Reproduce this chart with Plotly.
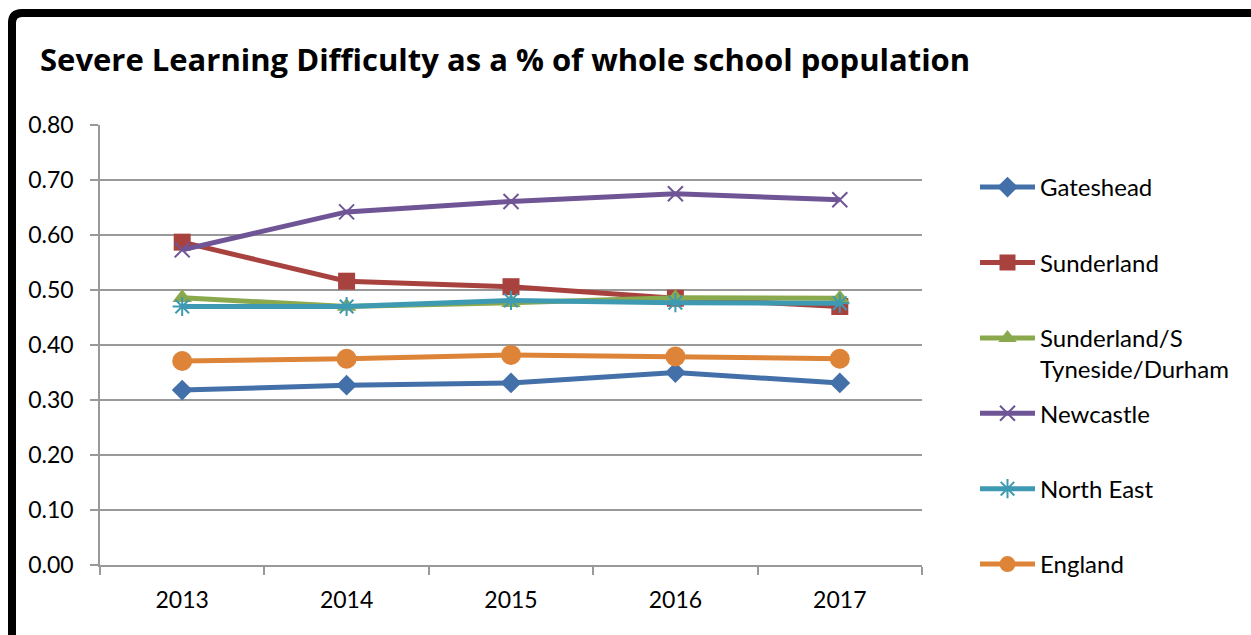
import plotly.graph_objects as go

# Severe Learning Difficulty (SLD) pupils as % of whole school population
years = ["2013", "2014", "2015", "2016", "2017"]

gateshead = [0.318, 0.327, 0.331, 0.350, 0.331]
sunderland = [0.587, 0.516, 0.506, 0.485, 0.470]
sunderland_s_tyneside_durham = [0.486, 0.470, 0.477, 0.486, 0.485]
newcastle = [0.573, 0.642, 0.661, 0.675, 0.664]
north_east = [0.470, 0.470, 0.481, 0.477, 0.476]
england = [0.371, 0.375, 0.382, 0.379, 0.375]

y_ticks = [0.0, 0.1, 0.2, 0.3, 0.4, 0.5, 0.6, 0.7, 0.8]

# legend entries span two text lines so the entries are evenly spaced
BLANK = "<br>\u00a0"
series = [
    ("Gateshead" + BLANK, gateshead, "#4370A9", "diamond", 16),
    ("Sunderland" + BLANK, sunderland, "#A8423F", "square", 17),
    ("Sunderland/S<br>Tyneside/Durham", sunderland_s_tyneside_durham, "#89A94C", "triangle-up", 17),
    ("Newcastle" + BLANK, newcastle, "#6F5596", "x-thin-open", 15),
    ("North East" + BLANK, north_east, "#3E9AB2", "asterisk-open", 16),
    ("England", england, "#DD8438", "circle", 20),
]

W, H = 1251, 635
L, R, T, B = 100, 922, 125, 565  # plot area in pixels


def px_x(p):
    return (p - L) / (R - L)


def px_y(p):
    return (B - p) / (B - T)


fig = go.Figure()
for i, (name, vals, color, symbol, size) in enumerate(series):
    open_marker = symbol.endswith("-open")
    fig.add_trace(go.Scatter(
        x=years, y=vals, name=name, mode="lines+markers",
        legendgroup=f"g{i}",
        line=dict(color=color, width=5),
        marker=dict(symbol=symbol, size=size, color=color,
                    line=dict(color=color, width=2 if open_marker else 0)),
    ))

font = "Lato"

fig.update_layout(
    width=W, height=H,
    margin=dict(l=L, r=W - R, t=T, b=H - B),
    paper_bgcolor="white", plot_bgcolor="white",
    title=dict(
        text="<b>Severe Learning Difficulty as a % of whole school population</b>",
        font=dict(family="Open Sans", size=31, color="black"),
        x=40 / W, xanchor="left", xref="container",
        y=1 - 60 / H, yanchor="middle", yref="container",
    ),
    xaxis=dict(
        type="category", tickson="boundaries", ticks="outside", ticklen=8,
        tickcolor="#999999", tickwidth=1.5,
        showline=True, linecolor="#999999", linewidth=1.5,
        showgrid=False, range=[-0.5, 4.5],
        tickfont=dict(family=font, size=23, color="black"),
        ticklabelstandoff=14,
    ),
    yaxis=dict(
        range=[0, 0.8], tickvals=y_ticks, tickformat=".2f",
        ticks="outside", ticklen=8, tickcolor="#999999", tickwidth=1.5,
        showline=True, linecolor="#999999", linewidth=1.5,
        showgrid=True, gridcolor="#999999", gridwidth=1.5,
        zeroline=False,
        tickfont=dict(family=font, size=23, color="black"),
        ticklabelstandoff=12,
    ),
    legend=dict(
        x=px_x(975), xanchor="left", y=px_y(165), yanchor="top",
        font=dict(family=font, size=24, color="black"),
        valign="top", tracegroupgap=10, itemwidth=55,
        bgcolor="rgba(0,0,0,0)", maxheight=1000,
    ),
    showlegend=True,
    shapes=[dict(
        type="path", xref="paper", yref="paper",
        path=(f"M {px_x(12)},{px_y(645)} L {px_x(12)},{px_y(23)} "
              f"Q {px_x(12)},{px_y(13)} {px_x(22)},{px_y(13)} "
              f"L {px_x(1260)},{px_y(13)}"),
        line=dict(color="black", width=8),
    )],
)

fig.write_html("out.html")
